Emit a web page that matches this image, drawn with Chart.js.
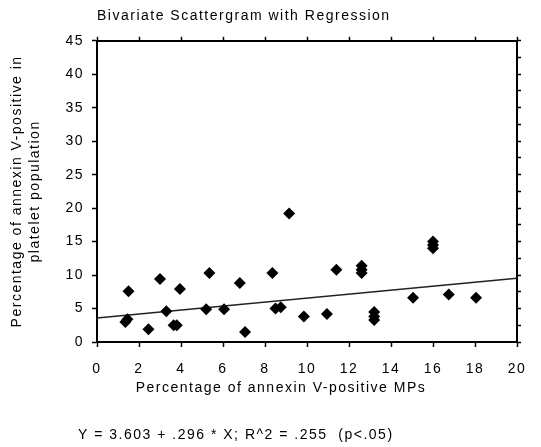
<!DOCTYPE html>
<html>
<head>
<meta charset="utf-8">
<script src="https://cdn.jsdelivr.net/npm/chart.js@4"></script>
<style>
    html, body { margin: 0; padding: 0; background: #fff; }
    #chart { display: block; }
</style>
</head>
<body>
<canvas id="chart" width="541" height="447"></canvas>
<script>
// values
const annexinMPs = [1.35, 1.45, 1.5, 2.45, 3.0, 3.3, 3.65, 3.8, 3.95, 5.2, 5.35, 6.05, 6.8, 7.05,
    8.35, 8.5, 8.75, 9.15, 9.85, 10.95, 11.4, 12.6, 12.6, 12.6, 13.2, 13.2, 13.2,
    15.05, 16.0, 16.0, 16.0, 16.75, 18.05];
const annexinPlatelets = [3.0, 3.4, 7.6, 1.9, 9.4, 4.6, 2.5, 2.5, 7.9, 4.9, 10.3, 4.9, 8.8, 1.5,
    10.3, 5.0, 5.2, 19.2, 3.8, 4.2, 10.8, 11.4, 10.8, 10.3, 4.5, 3.8, 3.3,
    6.6, 15.0, 14.5, 14.0, 7.1, 6.6];

// regression line ends (Y = 3.603 + .296 * X)
const lineX = [0, 20];
const lineY = [3.6, 9.52];

const xTicks = { min: 0, max: 20, step: 2 };
const yTicks = { min: 0, max: 45, step: 2.5, labelEvery: 5 };

const titleText = 'Bivariate Scattergram with Regression';
const xTitle = 'Percentage of annexin V-positive MPs';
const yTitle = ['Percentage of annexin V-positive in', 'platelet population'];
const footerText = 'Y = 3.603 + .296 * X; R^2 = .255  (p<.05)';

const FONT = "'Liberation Sans', Arial, sans-serif";
const SPACING = '1.5px';

const points = annexinMPs.map((x, i) => ({ x: x, y: annexinPlatelets[i] }));
const regression = lineX.map((x, i) => ({ x: x, y: lineY[i] }));

// old stats package spaced its letters out
const spacingPlugin = {
    id: 'spacing',
    beforeLayout(chart) { chart.ctx.letterSpacing = SPACING; },
    beforeDraw(chart) { chart.ctx.letterSpacing = SPACING; }
};

// x title sits left of centre in the original, and the equation under it
const captionPlugin = {
    id: 'captions',
    afterDraw(chart) {
        const ctx = chart.ctx;
        ctx.save();
        ctx.letterSpacing = SPACING;
        ctx.font = '14px ' + FONT;
        ctx.fillStyle = '#000';
        ctx.textBaseline = 'middle';
        ctx.textAlign = 'center';
        ctx.fillText(xTitle, 281, 388);
        ctx.textAlign = 'left';
        ctx.fillText(footerText, 78, 435);
        ctx.restore();
    }
};

const frame = { display: true, color: '#000', width: 2 };

new Chart(document.getElementById('chart').getContext('2d'), {
    type: 'scatter',
    data: {
        datasets: [{
            label: 'points',
            data: points,
            pointStyle: 'rectRot',
            pointRadius: 6,
            pointHoverRadius: 6,
            backgroundColor: '#000',
            borderColor: '#000',
            borderWidth: 0
        }, {
            label: 'regression',
            data: regression,
            showLine: true,
            pointRadius: 0,
            borderColor: '#222',
            borderWidth: 1.5
        }]
    },
    options: {
        responsive: false,
        animation: false,
        layout: { padding: { left: 0, right: 19, top: 0, bottom: 43 } },
        plugins: {
            legend: { display: false },
            tooltip: { enabled: false },
            title: {
                display: true,
                text: titleText,
                align: 'start',
                fullSize: false,
                color: '#000',
                font: { family: FONT, size: 14, weight: 'normal' },
                padding: { top: 8, bottom: 11 }
            }
        },
        scales: {
            x: {
                type: 'linear',
                position: 'bottom',
                min: xTicks.min,
                max: xTicks.max,
                border: frame,
                grid: { drawOnChartArea: false, drawTicks: true, tickLength: 5, color: '#000', tickWidth: 1.5 },
                ticks: {
                    stepSize: xTicks.step,
                    color: '#000',
                    padding: 14,
                    maxRotation: 0,
                    font: { family: FONT, size: 14 }
                },
                afterFit(scale) { scale.height = 62; }
            },
            x2: {
                type: 'linear',
                position: 'top',
                min: xTicks.min,
                max: xTicks.max,
                border: frame,
                grid: { drawOnChartArea: false, drawTicks: true, tickLength: 4, color: '#000', tickWidth: 1.5 },
                ticks: { stepSize: xTicks.step, display: false },
                afterFit(scale) { scale.height = 5; }
            },
            y: {
                type: 'linear',
                position: 'left',
                min: yTicks.min,
                max: yTicks.max,
                border: frame,
                grid: { drawOnChartArea: false, drawTicks: true, tickLength: 5, color: '#000', tickWidth: 1.5 },
                ticks: {
                    stepSize: yTicks.step,
                    color: '#000',
                    padding: 8,
                    font: { family: FONT, size: 14 },
                    callback: v => (v % yTicks.labelEvery === 0 ? v : '')
                },
                title: {
                    display: true,
                    text: yTitle,
                    color: '#000',
                    font: { family: FONT, size: 14, lineHeight: 1.3 },
                    padding: { top: 8, bottom: 0 }
                },
                afterFit(scale) { scale.width = 97; }
            },
            y2: {
                type: 'linear',
                position: 'right',
                min: yTicks.min,
                max: yTicks.max,
                border: frame,
                grid: { drawOnChartArea: false, drawTicks: true, tickLength: 4, color: '#000', tickWidth: 1.5 },
                ticks: { stepSize: yTicks.step, display: false },
                afterFit(scale) { scale.width = 5; }
            }
        }
    },
    plugins: [spacingPlugin, captionPlugin]
});
</script>
</body>
</html>
